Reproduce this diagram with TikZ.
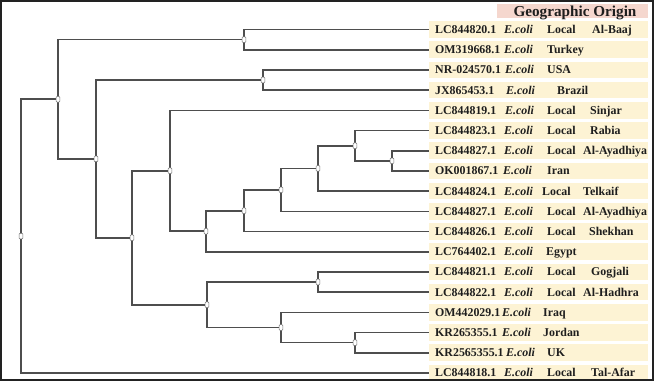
\documentclass[tikz,border=0pt]{standalone}
\usepackage{fontspec}
\setmainfont{Liberation Serif}
\definecolor{treeline}{RGB}{78,78,78}
\definecolor{labfill}{RGB}{253,243,212}
\definecolor{headfill}{RGB}{245,215,206}
\definecolor{frame}{RGB}{34,34,34}
\definecolor{txt}{RGB}{30,30,30}
\tikzset{
  br/.style={draw=treeline, line width=1.6pt},
  jn/.style={draw=black!55, fill=white, line width=0.5pt, rectangle, rounded corners=0.8pt, minimum width=3.6pt, minimum height=5.6pt, inner sep=0pt},
  lbox/.style={fill=labfill, anchor=west, minimum width=219pt, minimum height=16.5pt, inner sep=0pt},
  ltxt/.style={anchor=base west, inner sep=0pt, text=txt, font=\fontsize{11.9}{13}\selectfont\bfseries},
  ltxti/.style={ltxt, font=\fontsize{11.9}{13}\selectfont\bfseries\itshape},
}
\newcommand{\rowloc}[6]{%
  \node[lbox] (b#1) at (429,#2) {};
  \node[ltxt] (id#1) at (435,#2+4) {#3};
  \node[ltxti] (ec#1) at (#4,#2+4) {E.coli};
  \node[ltxt] (lo#1) at (547,#2+4) {Local};
  \node[ltxt] (pl#1) at (#6,#2+4) {#5};
}
\newcommand{\rowcty}[6]{%
  \node[lbox] (b#1) at (429,#2) {};
  \node[ltxt] (id#1) at (435,#2+4) {#3};
  \node[ltxti] (ec#1) at (#4,#2+4) {E.coli};
  \node[ltxt] (pl#1) at (#6,#2+4) {#5};
}
\begin{document}
\begin{tikzpicture}[x=1pt,y=-1pt]
\useasboundingbox (0,0) rectangle (654,381);
% header
\node[fill=headfill, anchor=north west, minimum width=151pt, minimum height=14pt, inner sep=0pt] (hbox) at (497,4) {};
\node[text=txt, font=\fontsize{15.2}{16}\selectfont\bfseries, anchor=base] (head) at (575,16) {Geographic Origin};
% label rows
\rowloc{1}{29.5}{LC844820.1}{504}{Al-Baaj}{592}
\rowcty{2}{49.7}{OM319668.1}{504}{Turkey}{547}
\rowcty{3}{69.9}{NR-024570.1}{505}{USA}{547}
\rowcty{4}{90.1}{JX865453.1}{506}{Brazil}{557}
\rowloc{5}{110.3}{LC844819.1}{505}{Sinjar}{590}
\rowloc{6}{130.5}{LC844823.1}{504}{Rabia}{590}
\rowloc{7}{150.7}{LC844827.1}{504}{Al-Ayadhiya}{583}
\rowcty{8}{170.9}{OK001867.1}{503}{Iran}{547}
\node[lbox] (b9) at (429,191.1) {};
\node[ltxt] (id9) at (435,195.1) {LC844824.1};
\node[ltxti] (ec9) at (504,195.1) {E.coli};
\node[ltxt] (lo9) at (542,195.1) {Local};
\node[ltxt] (pl9) at (583,195.1) {Telkaif};
\rowloc{10}{211.3}{LC844827.1}{504}{Al-Ayadhiya}{583}
\rowloc{11}{231.5}{LC844826.1}{504}{Shekhan}{589}
\rowcty{12}{251.7}{LC764402.1}{504}{Egypt}{546}
\rowloc{13}{271.9}{LC844821.1}{504}{Gogjali}{591}
\rowloc{14}{292.1}{LC844822.1}{504}{Al-Hadhra}{583}
\rowcty{15}{312.3}{OM442029.1}{502}{Iraq}{543}
\rowcty{16}{332.5}{KR265355.1}{502}{Jordan}{543}
\rowcty{17}{352.7}{KR2565355.1}{506}{UK}{547}
\rowloc{18}{372.9}{LC844818.1}{504}{Tal-Afar}{591}
% internal node positions
\coordinate (R) at (21,236.1);
\coordinate (A) at (58,99.2);
\coordinate (P12) at (244,39.6);
\coordinate (C) at (96,158.9);
\coordinate (P34) at (263,80);
\coordinate (D) at (132,237.7);
\coordinate (E) at (170,170.7);
\coordinate (G) at (206,231.2);
\coordinate (H) at (244,210.7);
\coordinate (I) at (281,189.8);
\coordinate (J) at (318,168.4);
\coordinate (K) at (355,145.7);
\coordinate (L) at (392,160.8);
\coordinate (F) at (207,304.7);
\coordinate (M) at (318,282);
\coordinate (N) at (281,327.5);
\coordinate (O) at (355,342.6);
% branches
\draw[br] (R) |- (A);  \draw[br] (R) |- (b18.west);
\draw[br] (A) |- (P12); \draw[br] (A) |- (C);
\draw[br] (P12) |- (b1.west); \draw[br] (P12) |- (b2.west);
\draw[br] (C) |- (P34); \draw[br] (C) |- (D);
\draw[br] (P34) |- (b3.west); \draw[br] (P34) |- (b4.west);
\draw[br] (D) |- (E); \draw[br] (D) |- (F);
\draw[br] (E) |- (b5.west); \draw[br] (E) |- (G);
\draw[br] (G) |- (H); \draw[br] (G) |- (b12.west);
\draw[br] (H) |- (I); \draw[br] (H) |- (b11.west);
\draw[br] (I) |- (J); \draw[br] (I) |- (b10.west);
\draw[br] (J) |- (K); \draw[br] (J) |- (b9.west);
\draw[br] (K) |- (b6.west); \draw[br] (K) |- (L);
\draw[br] (L) |- (b7.west); \draw[br] (L) |- (b8.west);
\draw[br] (F) |- (M); \draw[br] (F) |- (N);
\draw[br] (M) |- (b13.west); \draw[br] (M) |- (b14.west);
\draw[br] (N) |- (b15.west); \draw[br] (N) |- (O);
\draw[br] (O) |- (b16.west); \draw[br] (O) |- (b17.west);
% junction markers
\foreach \n in {R,A,P12,C,P34,D,E,G,H,I,J,K,L,F,M,N,O}
  \node[jn] (m\n) at (\n) {};
% frame
\draw[draw=frame, line width=2pt] (1,1) rectangle (653,380);
\end{tikzpicture}
\end{document}
